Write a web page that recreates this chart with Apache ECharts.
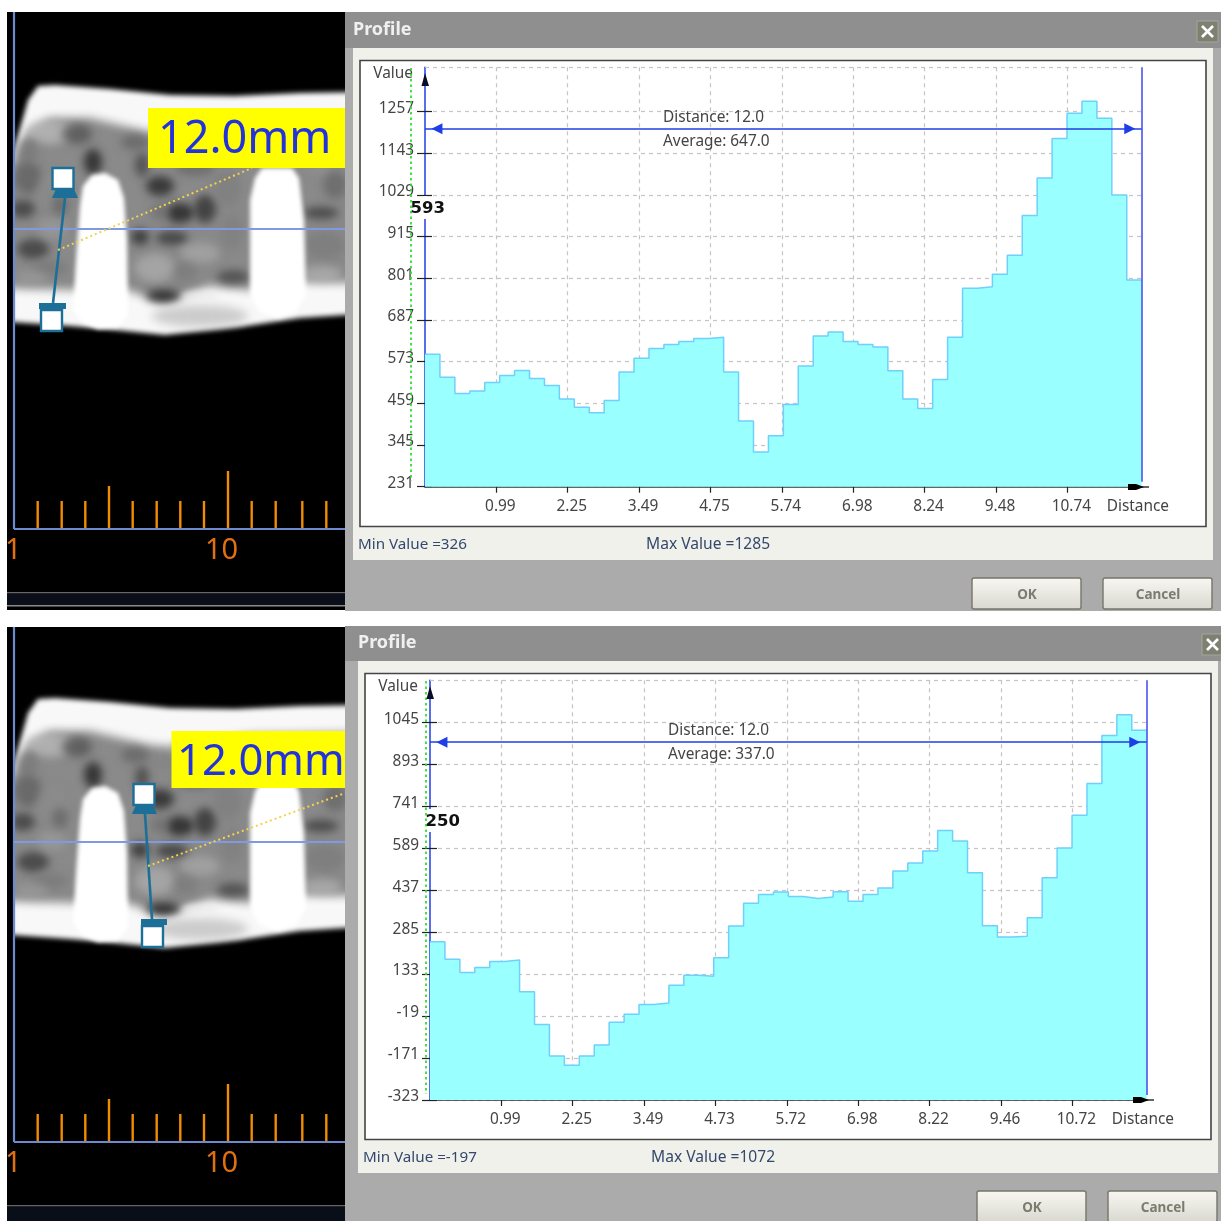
<!DOCTYPE html>
<html><head><meta charset="utf-8">
<style>html,body{margin:0;padding:0;background:#fff}#c{width:1221px;height:1221px}</style>
<script src="https://cdn.jsdelivr.net/npm/echarts@6/dist/echarts.min.js"></script>
</head><body><div id="c"></div>
<script>
// Profile values, one per 0.25 mm bin
const profileA = [593,530,486,493,516,535,549,527,508,471,448,433,467,545,582,609,620,628,636,640,545,411,326,370,456,561,643,654,628,620,613,548,471,445,524,640,774,778,812,864,973,1075,1183,1252,1285,1239,1029,796];
const profileB = [250,187,139,157,179,184,69,-50,-164,-197,-164,-124,-41,-12,23,28,93,129,125,192,307,390,421,430,414,407,412,431,397,421,445,506,535,579,653,615,500,308,267,270,337,482,590,708,823,997,1072,1016];
const yTicksA = [231,345,459,573,687,801,915,1029,1143,1257];
const yTicksB = [-323,-171,-19,133,285,437,589,741,893,1045];
const xTickPos = [1.195,2.39,3.585,4.78,5.975,7.17,8.365,9.56,10.755];
const xLabelsA = ['0.99','2.25','3.49','4.75','5.74','6.98','8.24','9.48','10.74'];
const xLabelsB = ['0.99','2.25','3.49','4.73','5.72','6.98','8.22','9.46','10.72'];
const yMaxA = 1378, yMaxB = 1197, rulerA = 1210, rulerB = 973;
const distanceMm = 12, binMm = 0.25;
const FONT = '"Noto Sans"';

const panels = [
  {values:profileA, yTicks:yTicksA, xLabels:xLabelsA, yMax:yMaxA, ruler:rulerA, left:425, top:67.3, height:419.4},
  {values:profileB, yTicks:yTicksB, xLabels:xLabelsB, yMax:yMaxB, ruler:rulerB, left:430, top:680.3, height:419.7}
];
const xAxes=[], yAxes=[], grids=[], series=[];
panels.forEach((p,i)=>{
  const yMin=p.yTicks[0];
  grids.push({left:p.left, top:p.top, width:716.7, height:p.height});
  const xBase={type:'value',gridIndex:i,position:'bottom',min:0,max:distanceMm};
  const yBase={type:'value',gridIndex:i,position:'left',min:yMin,max:p.yMax};
  xAxes.push(Object.assign({},xBase,{
    name:'Distance',nameLocation:'end',nameGap:-35,
    nameTextStyle:{color:'#444',fontFamily:FONT,fontSize:15.4,verticalAlign:'top',padding:[12,0,0,0]},
    axisLine:{onZero:false,lineStyle:{color:'#333',width:1.5}},
    axisTick:{length:6,customValues:xTickPos,lineStyle:{color:'#222',width:1.2}},
    axisLabel:{margin:11,customValues:xTickPos,
      formatter:v=>'{a|'+(p.xLabels[xTickPos.indexOf(v)]||'')+'}',
      rich:{a:{color:'#444',fontFamily:FONT,fontSize:15.4,padding:[1,0,0,8]}}},
    splitLine:{show:true,lineStyle:{color:'#c4c4c4',type:[4,4],width:1.2}}
  }));
  xAxes.push(Object.assign({},xBase,{
    axisLine:{show:false,onZero:false},
    axisTick:{inside:true,length:6,customValues:xTickPos,lineStyle:{color:'#222',width:1.2}},
    axisLabel:{show:false},splitLine:{show:false}
  }));
  yAxes.push(Object.assign({},yBase,{
    name:'Value',nameLocation:'end',nameGap:-14,
    nameTextStyle:{color:'#444',fontFamily:FONT,fontSize:15.4,align:'right',padding:[0,12,0,0]},
    axisLine:{onZero:false,lineStyle:{color:'#1f3fe6',width:1.5}},
    axisTick:{length:8,customValues:p.yTicks,lineStyle:{color:'#222',width:1.2}},
    axisLabel:{margin:11,customValues:p.yTicks,
      formatter:v=>'{a|'+String(v)+'}',
      rich:{a:{color:'#444',fontFamily:FONT,fontSize:15.4,padding:[0,0,6,0]}}},
    splitLine:{show:true,lineStyle:{color:'#c4c4c4',type:[4,4],width:1.2}}
  }));
  yAxes.push(Object.assign({},yBase,{
    axisLine:{show:false,onZero:false},
    axisTick:{inside:true,length:7,customValues:p.yTicks,lineStyle:{color:'#222',width:1.2}},
    axisLabel:{show:false},splitLine:{show:false}
  }));
  const pts=p.values.map((v,k)=>[k*binMm,v]);
  pts.push([distanceMm,p.values[p.values.length-1]]);
  series.push({
    type:'line',step:'end',xAxisIndex:i*2,yAxisIndex:i*2,data:pts,showSymbol:false,symbol:'none',
    lineStyle:{color:'#6fd0fb',width:1.5},areaStyle:{color:'#99ffff',opacity:1,origin:'start'},
    markLine:{silent:true,animation:false,symbol:'none',label:{show:false},data:[
      [{coord:[0,p.yMax],lineStyle:{color:'#c4c4c4',type:[4,4],width:1.2}},{coord:[11.85,p.yMax]}],
      [{coord:[distanceMm,yMin+(p.yMax-yMin)*0.012],lineStyle:{color:'#4a55ee',type:'solid',width:1.6}},{coord:[distanceMm,p.yMax]}],
      [{coord:[0,p.ruler],lineStyle:{color:'#1f3fe6',type:'solid',width:1.6}},{coord:[distanceMm,p.ruler]}],
      [{coord:[0.2,p.ruler],symbol:'triangle',symbolSize:11,symbolRotate:90,lineStyle:{color:'#1f3fe6',width:0},itemStyle:{color:'#1030f0'}},{coord:[0.21,p.ruler],symbol:'none'}],
      [{coord:[11.79,p.ruler],symbol:'none',lineStyle:{color:'#1f3fe6',width:0}},{coord:[11.8,p.ruler],symbol:'triangle',symbolSize:11,itemStyle:{color:'#1030f0'}}]
    ]}
  });
});

// ---------- window furniture and CT picture ----------
const BG=-10, FAR=3000;
const rect=(x,y,w,h,fill,extra)=>({type:'rect',silent:true,z:BG,shape:{x,y,width:w,height:h},style:Object.assign({fill},extra||{})});
const line=(x1,y1,x2,y2,stroke,width,dash,z)=>({type:'line',silent:true,z:z===undefined?BG+3:z,shape:{x1,y1,x2,y2},style:{stroke,lineWidth:width,lineDash:dash||null}});
const poly=(points,fill,z)=>({type:'polygon',silent:true,z:z===undefined?BG+1:z,shape:{points},style:{fill}});
// soft shapes: the shape sits off canvas and only its blurred shadow lands on the canvas
const softPoly=(points,color,blur,z)=>({type:'polygon',silent:true,z:z,shape:{points:points.map(p=>[p[0]-FAR,p[1]])},style:{fill:'#000',shadowColor:color,shadowBlur:blur,shadowOffsetX:FAR}});
const softBlob=(x,y,rx,ry,color,blur,z)=>({type:'ellipse',silent:true,z:z,shape:{cx:x-FAR,cy:y,rx,ry},style:{fill:'#000',shadowColor:color,shadowBlur:blur,shadowOffsetX:FAR}});
const text=(x,y,t,size,fill,weight,family,z,align)=>({type:'text',silent:true,z:z===undefined?100:z,style:{x,y,text:t,fontSize:size,fill,fontWeight:weight||'normal',fontFamily:family||FONT,verticalAlign:'middle',align:align||'left'}});

const texture=[
 [50,132,24,12,185,.8],[28,150,10,12,120,.7],[77,134,15,10,85,.8],[28,178,14,16,85,.6],[93,162,9,13,45,.9],[23,209,12,9,60,.8],[52,190,15,18,140,.6],
 [33,249,16,10,60,.8],[52,228,14,10,155,.7],[50,268,18,8,120,.7],[32,278,16,7,160,.6],[60,205,8,10,90,.6],
 [142,165,7,12,60,.7],[160,186,14,10,45,.85],[180,213,14,10,40,.85],[205,209,11,14,50,.8],[172,238,16,7,55,.8],[140,237,9,8,45,.8],
 [228,188,14,18,125,.7],[160,212,10,8,105,.6],[200,253,20,10,170,.7],[155,268,20,14,175,.7],[232,232,12,18,125,.6],
 [163,296,17,6,40,.9],[233,277,16,7,70,.8],[185,272,12,10,120,.6],[321,213,18,6,60,.8],[325,245,20,14,120,.6],[335,185,12,14,100,.7],[318,165,12,10,145,.6],[322,274,20,8,180,.7],
 [195,168,20,8,100,.7],[225,150,14,10,125,.5],[200,135,30,7,175,.6],[135,142,14,8,90,.6],[165,150,14,6,130,.6]
];
function ct(dy){
  const Y=a=>a.map(p=>[p[0],p[1]+dy]);
  const out=[];
  out.push(softPoly(Y([[11,160],[28,100],[38,86],[55,85],[110,89],[170,95],[235,96],[300,93],[360,92],[360,314],[300,318],[240,327],[165,335],[105,329],[70,326],[11,322]]),'#f8f8f8',5,BG+1));
  out.push(softPoly(Y([[5,175],[28,132],[50,118],[90,118],[150,132],[175,134],[250,122],[360,120],[360,283],[300,282],[250,290],[210,286],[165,303],[120,288],[70,290],[5,288]]),'#8a8a8a',10,BG+1));
  texture.forEach(b=>out.push(softBlob(b[0],b[1]+dy,b[2],b[3],`rgba(${b[4]},${b[4]},${b[4]},${b[5]})`,9,BG+2)));
  out.push(softBlob(200,316+dy,48,11,'rgba(190,190,190,.75)',10,BG+2));
  out.push(softBlob(200,296+dy,18,5,'rgba(235,235,235,.8)',6,BG+2));
  // implants
  out.push(softPoly(Y([[80,205],[83,186],[92,175],[105,173],[118,180],[124,198],[127,240],[128,315],[118,327],[98,329],[82,322],[73,310],[76,260]]),'#ffffff',4,BG+3));
  out.push(softPoly(Y([[250,200],[255,178],[262,168],[292,168],[299,178],[304,220],[306,295],[296,312],[278,318],[260,312],[250,295]]),'#ffffff',4,BG+3));
  // keep the soft shapes inside the panel
  out.push(Object.assign(rect(7,12+dy+(dy?2:0),7,598-(dy?2:0),'#000'),{z:BG+4}));
  out.push(Object.assign(rect(0,dy?611:0,7,dy?610:611,'#fff'),{z:BG+4}));
  // ruler
  const ticks=[[37.7,501],[61.7,501],[85.3,501],[109,486],[132.7,501],[156.7,501],[180.3,501],[204,501],[228,471],[251.7,501],[275.7,501],[302.3,501],[326.3,501]];
  ticks.forEach(t=>out.push(line(t[0],t[1]+dy,t[0],528+dy,'#f08c00',2.4,null,BG+4)));
  out.push(line(14,(dy?627:12),14,529+dy,'#6d8ad0',2.2,null,BG+4));
  out.push(line(14,529+dy,345,529+dy,'#6d8ad0',2.2,null,BG+4));
  out.push(line(14,229+dy,345,229+dy,'#7f9ae0',2,null,BG+4));
  out.push(text(5,551+dy,'1',29,'#e2700f','normal',FONT,BG+4));
  out.push(text(205,551+dy,'10',29,'#e2700f','normal',FONT,BG+4));
  return out;
}
function handles(h){
  const T='#1c6f96',o=[];
  o.push(line(h.l[0],h.l[1],h.l[2],h.l[3],T,2.6,null,BG+6));
  const trap=(x1,x2,x3,x4,y1,y2)=>poly([[x1,y1],[x2,y1],[x3,y2],[x4,y2]],T,BG+6);
  o.push(trap(h.t1[0]+4,h.t1[1]-4,h.t1[1],h.t1[0],h.t1[2],h.t1[3]));
  o.push(trap(h.t2[0],h.t2[1],h.t2[1],h.t2[0],h.t2[2],h.t2[3]));
  [h.s1,h.s2].forEach(s=>o.push(Object.assign(rect(s[0],s[1],21,21,'#fff',{stroke:T,lineWidth:2.4}),{z:BG+7})));
  o.push(line(h.d[0],h.d[1],h.d[2],h.d[3],'#f2d24a',2,[2,3],BG+6));
  return o;
}
function windowChrome(ox,oy,title,minT,maxT,dist,avg,cursor,cursorX){
  const o=[];
  o.push(Object.assign(rect(345,oy?626:12,876,36,'#8f8f8f'),{z:BG+5}));
  o.push(Object.assign(rect(345,48+oy,876,563,'#ababab'),{z:BG+5}));
  o.push(Object.assign(rect(353+ox,48+oy,860,512,'#f1f1ec'),{z:BG+5}));
  o.push(Object.assign(rect(360+ox,60.5+oy,846,466,'#fff',{stroke:'#444',lineWidth:1.6}),{z:BG+5}));
  o.push(text(353+ox,30+oy,title,18,'#f0f0f0','bold',FONT,BG+6));
  o.push(text(358+ox,545+oy,minT,15.2,'#34486c'));
  o.push(text(646+ox,545+oy,maxT,15.6,'#34486c'));
  o.push(text(663+ox,118+oy,dist,15.4,'#444'));
  o.push(text(663+ox,142+oy,avg,15.4,'#444'));
  // close box
  o.push(Object.assign(rect(1197+ox,21+oy,21,21,'#7e8072',{stroke:'#a5a696',lineWidth:1}),{z:BG+6}));
  o.push(line(1202+ox,26+oy,1213+ox,37+oy,'#fff',2.6,null,BG+7));
  o.push(line(1213+ox,26+oy,1202+ox,37+oy,'#fff',2.6,null,BG+7));
  // buttons
  const grad={type:'linear',x:0,y:0,x2:0,y2:1,colorStops:[{offset:0,color:'#f8f7f2'},{offset:1,color:'#d9d8cf'}]};
  [[972,'OK',1027],[1103,'Cancel',1158]].forEach(b=>{
    o.push(Object.assign(rect(b[0]+ox,578+oy,109,31,grad,{stroke:'#77766a',lineWidth:1.4}),{z:BG+6,shape:{x:b[0]+ox,y:578+oy,width:109,height:31,r:2}}));
    o.push(text(b[2]+ox,595+oy,b[1],13.5,'#7b7b70','bold',FONT,BG+7,'center'));
  });
  // green cursor, axis break with its value, arrows
  o.push(line(cursorX,68+oy,cursorX,481+oy,'#33dd33',1.8,[2.5,3],100));
  o.push(Object.assign(rect(425+ox-1.5,196+oy,3.5,23,'#fff'),{z:99}));
  o.push(text(cursorX-0.5,209+oy,cursor,16.5,'#111','bold','"DejaVu Sans"',101));
  o.push(poly([[425+ox,73+oy],[429+ox,86+oy],[421.5+ox,86+oy]],'#0b0b2a',100));
  o.push(line(1141+ox,487+oy,1149+ox,487+oy,'#333',1.5,null,100));
  o.push(poly([[1128+ox,484+oy],[1136+ox,484+oy],[1144+ox,487+oy],[1136+ox,490+oy],[1128+ox,490+oy]],'#000',100));
  return o;
}
const g=[];
g.push(rect(7,12,338,598,'#000'));
g.push(rect(7,627,338,594,'#000'));
g.push(...ct(0));
g.push(...ct(613));
[[592,'#666',1.6],[593.6,'#0a0e18',11.4],[605,'#8a8a8a',1.6],[1205,'#666',1.4],[1206.4,'#0a0e18',14.6]].forEach(b=>g.push(Object.assign(rect(7,b[0],338,b[2],b[1]),{z:BG+4})));
g.push(...handles({l:[65,198,53,303],t1:[52,78,189,198],t2:[39,66,303,309],s1:[52.5,168],s2:[41,310],d:[58,250,252,168]}));
g.push(...handles({l:[145,814,152,919],t1:[132,157,805,814],t2:[141,167,919,925],s1:[133.5,784],s2:[142,926],d:[148,866,345,793]}));
g.push(Object.assign(rect(148,108,197,60,'#ffff00'),{z:BG+7}));
g.push(Object.assign(rect(171.5,731,173.5,57,'#ffff00'),{z:BG+7}));
g.push(text(158,140,'12.0mm',45,'#2233dd','normal',FONT,BG+8));
g.push(text(177,763,'12.0mm',43.5,'#2233dd','normal',FONT,BG+8));
g.push(...windowChrome(0,0,'Profile','Min Value =326','Max Value =1285','Distance: 12.0','Average: 647.0','593',411));
g.push(...windowChrome(5,613,'Profile','Min Value =-197','Max Value =1072','Distance: 12.0','Average: 337.0','250',426));

const chart=echarts.init(document.getElementById('c'),null,{renderer:'canvas'});
chart.setOption({
  animation:false,backgroundColor:'#fff',
  grid:grids,xAxis:xAxes,yAxis:yAxes,series,graphic:{elements:g}
});
</script></body></html>
